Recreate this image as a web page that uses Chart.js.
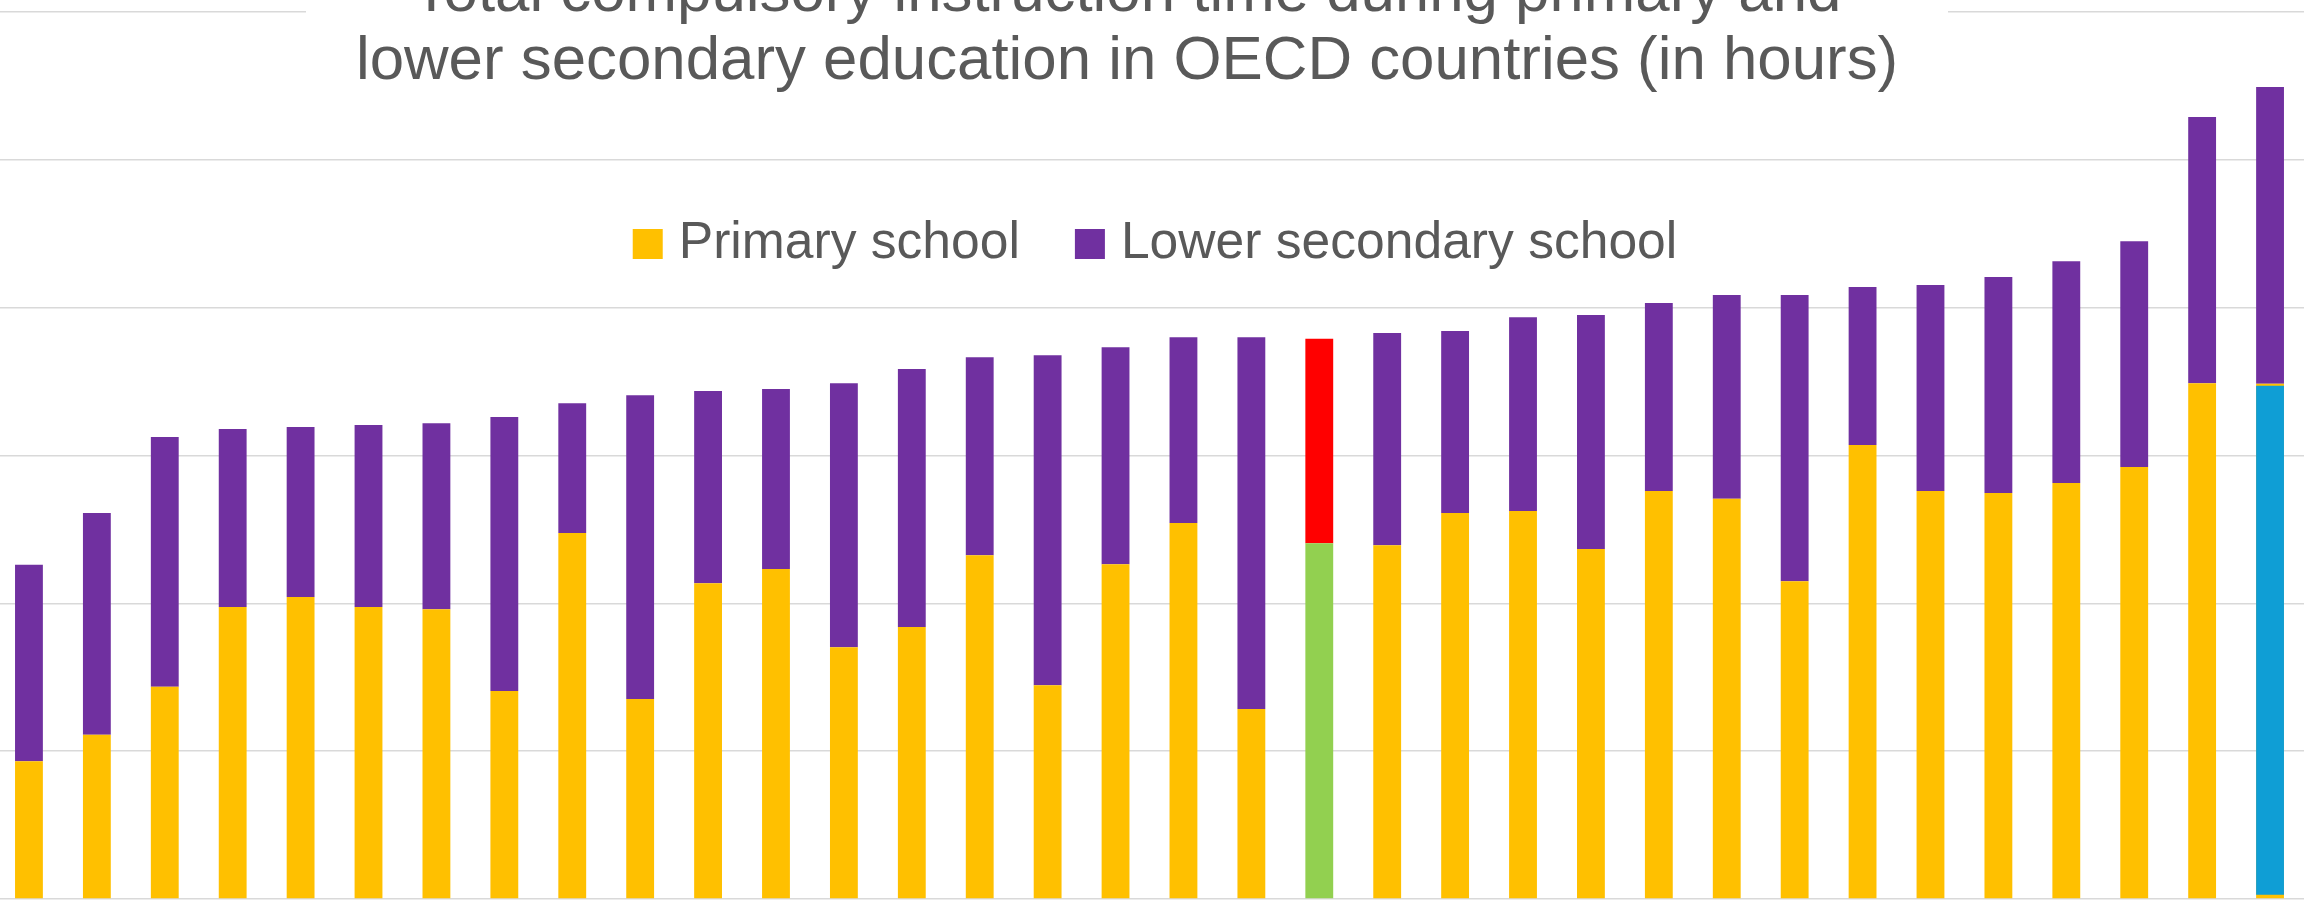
<!DOCTYPE html>
<html>
<head>
<meta charset="utf-8">
<script src="https://cdn.jsdelivr.net/npm/chart.js@4.4.0/dist/chart.umd.min.js"></script>
<style>
html, body { margin: 0; padding: 0; background: #ffffff; overflow: hidden; }
#wrap { position: absolute; left: -5px; top: 0; width: 2309px; height: 908px; }
</style>
</head>
<body>
<div id="wrap"><canvas id="id_chart"></canvas></div>
<script>
var TITLE_LINES = [
    "Total compulsory instruction time during primary and",
    "lower secondary education in OECD countries (in hours)"
];
var SERIES_NAMES = ["Primary school", "Lower secondary school"];

// country names are not visible in the picture, only the average bar is known
var COUNTRIES = [
    "C1", "C2", "C3", "C4", "C5", "C6", "C7", "C8", "C9", "C10",
    "C11", "C12", "C13", "C14", "C15", "C16", "C17", "C18", "C19", "OECD average",
    "C21", "C22", "C23", "C24", "C25", "C26", "C27", "C28", "C29", "C30",
    "C31", "C32", "C33", "C34"
];
var PRIMARY_HOURS = [
    1864, 2221, 2871, 3950, 4086, 3950, 3921, 2814, 4950, 2707,
    4271, 4464, 3407, 3679, 4650, 2893, 4529, 5086, 2571, 4814,
    4786, 5221, 5250, 4736, 5521, 5414, 4300, 6143, 5521, 5493,
    5629, 5843, 6979, 6971
];
var LOWER_SECONDARY_HOURS = [
    2657, 3000, 3379, 2407, 2300, 2464, 2515, 3707, 1757, 4107,
    2600, 2436, 3572, 3492, 2679, 4464, 2935, 2514, 5029, 2765,
    2871, 2465, 2621, 3164, 2543, 2757, 3871, 2136, 2786, 2921,
    3000, 3057, 3600, 4015
];
// blue block laid over the primary part of the last bar
var HIGHLIGHT_INDEX = 33;
var HIGHLIGHT_RANGE = [57, 6943];
var AVERAGE_INDEX = 19;
var Y_MIN = 0, Y_MAX = 12000, Y_STEP = 2000;

var COLOR = {
    primary: "#FFC000",
    lower: "#7030A0",
    avgPrimary: "#92D050",
    avgLower: "#FF0000",
    highlight: "#0F9ED5",
    text: "#595959",
    grid: "#D9D9D9"
};

var _barColors = function( base, special ){
    return COUNTRIES.map(function(c, i){
        return (i === AVERAGE_INDEX) ? special : base;
    });
};

var _highlightData = function(){
    return COUNTRIES.map(function(c, i){
        return (i === HIGHLIGHT_INDEX) ? HIGHLIGHT_RANGE : null;
    });
};

// title and legend sit inside the plot, Excel style, so they are drawn here
var _overlayText = {
    id: "overlayText",
    afterDraw: function( chart ){
        var ctx = chart.ctx;
        ctx.save();
        ctx.fillStyle = "#ffffff";
        ctx.fillRect(311, 0, 1642, 108);

        ctx.fillStyle = COLOR.text;
        ctx.textBaseline = "alphabetic";
        ctx.textAlign = "center";
        ctx.font = '61.8px "Liberation Sans", Arial, sans-serif';
        ctx.fillText(TITLE_LINES[0], 1132, 11);
        ctx.fillText(TITLE_LINES[1], 1132, 79);

        ctx.font = '51.6px "Liberation Sans", Arial, sans-serif';
        ctx.textAlign = "left";
        var box = 30, gapText = 16, gapItem = 55;
        var colors = [COLOR.primary, COLOR.lower];
        var widths = SERIES_NAMES.map(function(s){ return ctx.measureText(s).width; });
        var total = box * 2 + gapText * 2 + gapItem + widths[0] + widths[1];
        var x = 1160 - total / 2;
        var n;
        for( n = 0; n < SERIES_NAMES.length; n++ ){
            ctx.fillStyle = colors[n];
            ctx.fillRect(x, 229, box, box);
            x += box + gapText;
            ctx.fillStyle = COLOR.text;
            ctx.fillText(SERIES_NAMES[n], x, 258);
            x += widths[n] + gapItem;
        }
        ctx.restore();
    }
};

window.onload = function(){
    var ctx = document.getElementById("id_chart").getContext("2d");
    new Chart(ctx, {
        type: "bar",
        data: {
            labels: COUNTRIES,
            datasets: [
                {
                    label: SERIES_NAMES[0],
                    data: PRIMARY_HOURS,
                    backgroundColor: _barColors(COLOR.primary, COLOR.avgPrimary),
                    stack: "hours",
                    order: 0
                },
                {
                    label: SERIES_NAMES[1],
                    data: LOWER_SECONDARY_HOURS,
                    backgroundColor: _barColors(COLOR.lower, COLOR.avgLower),
                    stack: "hours",
                    order: 0
                },
                {
                    label: "highlight",
                    data: _highlightData(),
                    backgroundColor: COLOR.highlight,
                    stack: "highlight",
                    grouped: false,
                    order: -1
                }
            ]
        },
        options: {
            responsive: true,
            maintainAspectRatio: false,
            animation: false,
            datasets: {
                bar: { categoryPercentage: 0.41, barPercentage: 1, borderWidth: 0 }
            },
            layout: { padding: { top: 12, bottom: 9, left: 0, right: 0 } },
            plugins: {
                legend: { display: false },
                title: { display: false },
                tooltip: { enabled: false }
            },
            scales: {
                x: {
                    display: false,
                    stacked: true
                },
                y: {
                    stacked: true,
                    min: Y_MIN,
                    max: Y_MAX,
                    ticks: { display: false, stepSize: Y_STEP },
                    border: { display: false },
                    grid: { color: COLOR.grid, lineWidth: 1.5, drawTicks: false }
                }
            }
        },
        plugins: [_overlayText]
    });
};
</script>
</body>
</html>
